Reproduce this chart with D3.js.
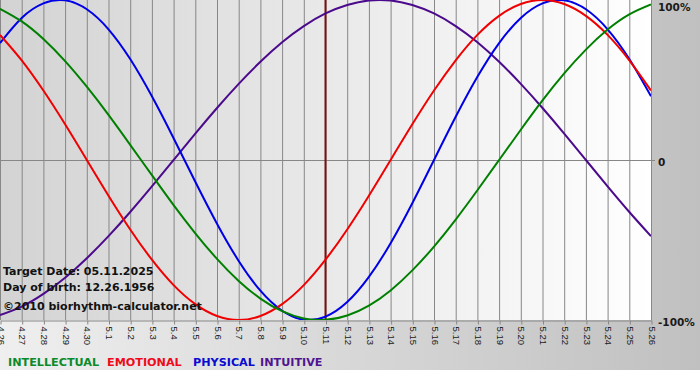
<!DOCTYPE html>
<html>
<head>
<meta charset="utf-8">
<script src="https://cdn.jsdelivr.net/npm/d3@7"></script>
<style>
  html, body { margin: 0; padding: 0; background: #ffffff; }
  svg { display: block; }
</style>
</head>
<body>
<svg id="chart" width="700" height="380"></svg>
<script>
// ---- data ----
const dayLabels = ["4.26","4.27","4.28","4.29","4.30","5.1","5.2","5.3","5.4","5.5","5.6","5.7","5.8","5.9","5.10",
  "5.11","5.12","5.13","5.14","5.15","5.16","5.17","5.18","5.19","5.20","5.21","5.22","5.23","5.24","5.25","5.26"];
const intellectual = [0.945,0.866,0.756,0.618,0.458,0.282,0.095,-0.095,-0.282,-0.458,-0.618,-0.756,-0.866,-0.945,-0.990,
  -0.999,-0.972,-0.910,-0.815,-0.690,-0.541,-0.372,-0.189,0.000,0.189,0.372,0.541,0.690,0.815,0.910,0.972];
const emotional = [0.782,0.623,0.434,0.223,0.000,-0.223,-0.434,-0.623,-0.782,-0.901,-0.975,-1.000,-0.975,-0.901,-0.782,
  -0.623,-0.434,-0.223,0.000,0.223,0.434,0.623,0.782,0.901,0.975,1.000,0.975,0.901,0.782,0.623,0.434];
const physical = [0.731,0.888,0.979,0.998,0.942,0.817,0.631,0.398,0.136,-0.136,-0.398,-0.631,-0.817,-0.942,-0.998,
  -0.979,-0.888,-0.731,-0.520,-0.270,0.000,0.270,0.520,0.731,0.888,0.979,0.998,0.942,0.817,0.631,0.398];
const intuitive = [-0.969,-0.916,-0.837,-0.736,-0.614,-0.476,-0.325,-0.165,0.000,0.165,0.325,0.476,0.614,0.736,0.837,
  0.916,0.969,0.997,0.997,0.969,0.916,0.837,0.736,0.614,0.476,0.325,0.165,0.000,-0.165,-0.325,-0.476];
const seriesNames = ["INTELLECTUAL","EMOTIONAL","PHYSICAL","INTUITIVE"];
const targetLabel = "5.11";
const yTickValues = [1, 0, -1];
const yTickLabels = ["100%", "0", "-100%"];
const infoLines = ["Target Date: 05.11.2025", "Day of birth: 12.26.1956", "\u00A92010 biorhythm-calculator.net"];

// ---- drawing ----
const W = 700, H = 380;
const plot = { left: 0, right: 651, top: 0, bottom: 320 };
const svg = d3.select("#chart");
const defs = svg.append("defs");

const bgGrad = defs.append("linearGradient").attr("id", "bgGrad").attr("x1", "0").attr("x2", "1").attr("y1", "0").attr("y2", "0");
bgGrad.append("stop").attr("offset", "0").attr("stop-color", "#efefef");
bgGrad.append("stop").attr("offset", "1").attr("stop-color", "#c0c0c0");

const plotGrad = defs.append("linearGradient").attr("id", "plotGrad").attr("x1", "0").attr("x2", "1").attr("y1", "0").attr("y2", "0");
plotGrad.append("stop").attr("offset", "0").attr("stop-color", "#d3d3d3");
plotGrad.append("stop").attr("offset", "1").attr("stop-color", "#ffffff");

defs.append("clipPath").attr("id", "plotClip").append("rect")
  .attr("x", plot.left).attr("y", plot.top)
  .attr("width", plot.right - plot.left).attr("height", plot.bottom - plot.top);

svg.append("rect").attr("x", 0).attr("y", 0).attr("width", W).attr("height", H).attr("fill", "#ffffff");
svg.append("rect").attr("x", 0).attr("y", 0).attr("width", W).attr("height", 370).attr("fill", "url(#bgGrad)");
svg.append("rect").attr("x", plot.left).attr("y", plot.top)
  .attr("width", plot.right - plot.left).attr("height", plot.bottom - plot.top).attr("fill", "url(#plotGrad)");

const x = d3.scalePoint().domain(dayLabels).range([plot.left, plot.right]);
const y = d3.scaleLinear().domain([-1, 1]).range([plot.bottom, plot.top]);

const gridColor = "#878787";
// vertical grid
svg.append("g").selectAll("line").data(dayLabels).join("line")
  .attr("x1", d => x(d) + 0.5).attr("x2", d => x(d) + 0.5)
  .attr("y1", plot.top).attr("y2", plot.bottom)
  .attr("stroke", gridColor).attr("stroke-width", 1);
// zero line
svg.append("line").attr("x1", plot.left).attr("x2", plot.right + 4)
  .attr("y1", y(0) + 0.5).attr("y2", y(0) + 0.5).attr("stroke", gridColor);

// x axis
const xAxis = svg.append("g").attr("transform", `translate(0.5,${plot.bottom + 0.5})`)
  .call(d3.axisBottom(x).tickSize(4).tickSizeOuter(0));
xAxis.select(".domain").attr("stroke", gridColor);
xAxis.selectAll(".tick line").attr("stroke", gridColor);
xAxis.selectAll(".tick text")
  .attr("transform", "rotate(90)")
  .attr("x", 6).attr("y", 0).attr("dy", "0.35em")
  .attr("text-anchor", "start")
  .attr("fill", "#1a1a1a")
  .style("font-family", "'Liberation Sans', Arial, sans-serif")
  .style("font-size", "9.5px");

// target date line
svg.append("line").attr("x1", x(targetLabel)).attr("x2", x(targetLabel))
  .attr("y1", plot.top).attr("y2", plot.bottom)
  .attr("stroke", "#7a1010").attr("stroke-width", 2);

// curves
const colors = { INTELLECTUAL: "#008000", EMOTIONAL: "#f00000", PHYSICAL: "#0000e6", INTUITIVE: "#4b0a8c" };
const legendColors = { INTELLECTUAL: "#0a8a2a", EMOTIONAL: "#ee0a1a", PHYSICAL: "#0a0ad0", INTUITIVE: "#4f1490" };
const seriesData = { INTELLECTUAL: intellectual, EMOTIONAL: emotional, PHYSICAL: physical, INTUITIVE: intuitive };
const line = d3.line().x((d, i) => x(dayLabels[i])).y(d => y(d)).curve(d3.curveNatural);
const curves = svg.append("g").attr("clip-path", "url(#plotClip)");
["INTUITIVE", "PHYSICAL", "EMOTIONAL", "INTELLECTUAL"].forEach(name => {
  curves.append("path").datum(seriesData[name]).attr("d", line)
    .attr("fill", "none").attr("stroke", colors[name]).attr("stroke-width", 2)
    .attr("stroke-linejoin", "round");
});

// right labels
const yOffsets = [11, 6, 6];
svg.append("g").selectAll("text").data(yTickValues).join("text")
  .attr("x", 658).attr("y", (d, i) => (d === 1 ? 0 : y(d)) + yOffsets[i])
  .text((d, i) => yTickLabels[i])
  .attr("fill", "#1a1a1a")
  .style("font-family", "'DejaVu Sans', Verdana, sans-serif")
  .style("font-weight", "bold").style("font-size", "10.5px");

// info text
const infoY = [275, 291, 310];
svg.append("g").selectAll("text").data(infoLines).join("text")
  .attr("x", 3).attr("y", (d, i) => infoY[i]).text(d => d)
  .attr("fill", "#111111")
  .style("font-family", "'DejaVu Sans', Verdana, sans-serif")
  .style("font-weight", "bold").style("font-size", "11px");

// legend
const legendX = [8, 107, 193, 260];
svg.append("g").selectAll("text").data(seriesNames).join("text")
  .attr("x", (d, i) => legendX[i]).attr("y", 366).text(d => d)
  .attr("fill", d => legendColors[d])
  .style("font-family", "'DejaVu Sans', Verdana, sans-serif")
  .style("font-weight", "bold").style("font-size", "11.2px");
</script>
</body>
</html>
